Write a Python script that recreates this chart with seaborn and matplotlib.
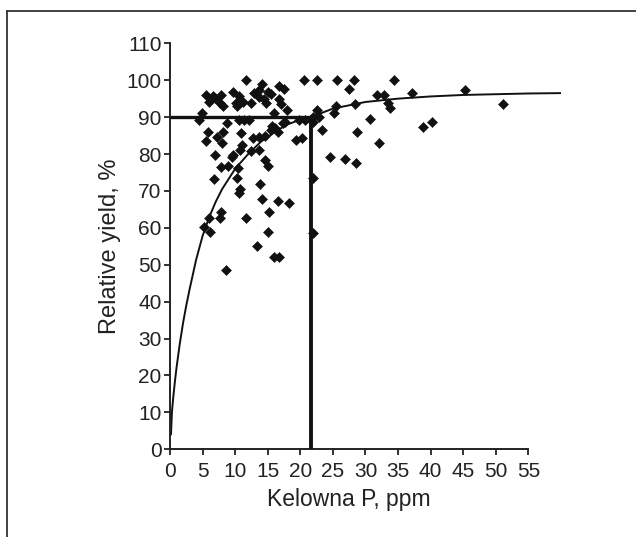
import matplotlib
matplotlib.use("Agg")
import matplotlib.pyplot as plt
import seaborn as sns
import pandas as pd
from matplotlib.lines import Line2D

# ---- data ----
kelowna_p = [
    11.7, 14.1, 16.8, 17.5, 20.5, 22.5, 25.6, 28.3, 34.4,
    5.5, 6.55, 6.0, 6.9, 7.8, 7.6, 8.1, 9.7, 10.6, 10.1, 10.3, 11.25, 12.9, 13.7,
    15.0, 15.5, 13.7, 14.4, 12.4, 14.7, 16.7, 17.1, 17.9, 27.4, 31.8, 32.8, 37.1,
    45.2, 51.1, 25.5, 28.4, 33.5, 33.7, 22.5,
    4.5, 4.9, 10.6, 11.3, 12.2, 15.9, 17.6, 19.8, 20.7, 22.0, 8.7, 25.1, 22.8,
    22.0, 30.7, 40.2, 38.8, 17.4, 15.6,
    5.8, 8.1, 5.5, 7.2, 8.0, 10.9, 11.0, 10.7, 12.8, 13.7, 14.6, 15.5, 16.1,
    16.6, 19.4, 20.2, 12.5, 23.4, 28.75, 32.1, 13.6, 9.6, 6.9,
    7.8, 8.95, 10.5, 14.6, 15.1, 6.8, 10.3, 13.8, 10.7, 22.0, 24.6, 26.9, 28.5, 9.5,
    10.6, 14.1, 16.6, 18.3, 7.8, 6.0, 7.6, 11.7, 15.2, 5.2, 6.1, 15.1, 13.3,
    15.9, 16.8, 8.6, 22.0,
]
relative_yield = [
    100.1, 99.0, 98.5, 97.6, 100.1, 100.1, 100.1, 100.1, 100.1,
    96.0, 95.6, 94.2, 95.1, 96.0, 93.8, 93.0, 96.9, 95.6, 93.9, 92.9, 94.2, 96.5, 97.4,
    96.9, 96.2, 95.4, 94.8, 93.9, 93.8, 94.8, 93.6, 92.0, 97.6, 96.0, 96.0, 96.5,
    97.4, 93.6, 93.0, 93.6, 93.8, 92.4, 91.9,
    89.1, 91.0, 89.1, 89.1, 89.2, 91.0, 88.8, 89.2, 89.2, 90.1, 88.5, 91.0, 90.1,
    88.8, 89.4, 88.8, 87.2, 88.5, 87.6,
    86.1, 86.1, 83.4, 84.7, 82.9, 85.8, 82.5, 81.1, 84.3, 84.5, 84.9, 86.5, 87.0,
    86.1, 83.8, 84.3, 80.7, 86.5, 85.9, 83.1, 81.1, 79.7, 79.8,
    76.4, 76.8, 76.1, 78.4, 76.8, 73.3, 73.4, 71.9, 70.5, 73.4, 79.3, 78.6, 77.7, 79.3,
    69.4, 67.7, 67.3, 66.7, 64.4, 62.6, 62.6, 62.8, 64.4, 60.3, 59.0, 59.0, 55.1,
    52.2, 52.2, 48.6, 58.5,
]

# fitted response curve
curve_p = [0.15, 0.3, 0.5, 0.75, 1, 1.5, 2, 2.5, 3, 4, 5, 6, 7, 8, 10, 12, 14,
           16, 18, 20, 22.5, 25, 30, 35, 40, 45, 50, 55, 60]
curve_yield = [4.0, 10.2, 14.1, 18.3, 22.1, 28.6, 34.2, 39.0, 43.3, 51.3, 57.8,
               62.8, 67.0, 70.5, 76.0, 80.0, 83.4, 85.9, 88.0, 89.3, 90.6, 92.3,
               94.1, 95.0, 95.6, 96.0, 96.2, 96.4, 96.5]

critical_p = 21.6
critical_yield = 90

x_ticks = list(range(0, 60, 5))
y_ticks = list(range(0, 120, 10))

# ---- plot ----
sns.set_theme(style="white")
plt.rcParams["font.family"] = ["Liberation Sans", "DejaVu Sans"]

fig = plt.figure(figsize=(6.36, 5.37), dpi=100)
ax = fig.add_axes([0.2673, 0.1633, 0.6147, 0.7561])

df = pd.DataFrame({"p": kelowna_p, "y": relative_yield})
curve = pd.DataFrame({"p": curve_p, "y": curve_yield})

sns.lineplot(data=curve, x="p", y="y", ax=ax, color="#111111", lw=1.4,
             sort=True, estimator=None)
sns.scatterplot(data=df, x="p", y="y", ax=ax, marker="D", s=26,
                color="#111111", edgecolor="#111111", linewidth=0.4, zorder=3)

ax.plot([0, critical_p], [critical_yield, critical_yield], color="#111111",
        lw=2.4, solid_capstyle="butt", zorder=4)
ax.plot([critical_p, critical_p], [0, critical_yield], color="#111111",
        lw=2.8, solid_capstyle="butt", zorder=4)

ax.set_xlim(0, 60)
ax.set_ylim(0, 110)
ax.set_xticks(x_ticks)
ax.set_yticks(y_ticks)
for s in ["top", "right"]:
    ax.spines[s].set_visible(False)
ax.spines["left"].set_bounds(0, 110)
ax.spines["bottom"].set_bounds(0, 55)
for s in ["left", "bottom"]:
    ax.spines[s].set_color("#222222")
    ax.spines[s].set_linewidth(1.4)
ax.tick_params(axis="both", direction="out", length=4, width=1.3,
               color="#222222", labelsize=15, labelcolor="#222222",
               bottom=True, left=True)
ax.tick_params(axis="x", pad=5)
ax.tick_params(axis="y", pad=2)
ax.set_xlabel("Kelowna P, ppm", fontsize=16.5, color="#222222")
ax.set_ylabel("Relative yield, %", fontsize=17, color="#222222")
ax.xaxis.set_label_coords(27.5 / 60, -0.095)
ax.yaxis.set_label_coords(-0.125, 0.5)
ax.grid(False)

# outer frame (top and left edges)
fig.add_artist(Line2D([7 / 636, 1.0], [1 - 10.5 / 537, 1 - 10.5 / 537],
                      transform=fig.transFigure, color="#222222", lw=1.2))
fig.add_artist(Line2D([7 / 636, 7 / 636], [0, 1 - 10.5 / 537],
                      transform=fig.transFigure, color="#222222", lw=1.2))

fig.savefig("out.png", dpi=100)
